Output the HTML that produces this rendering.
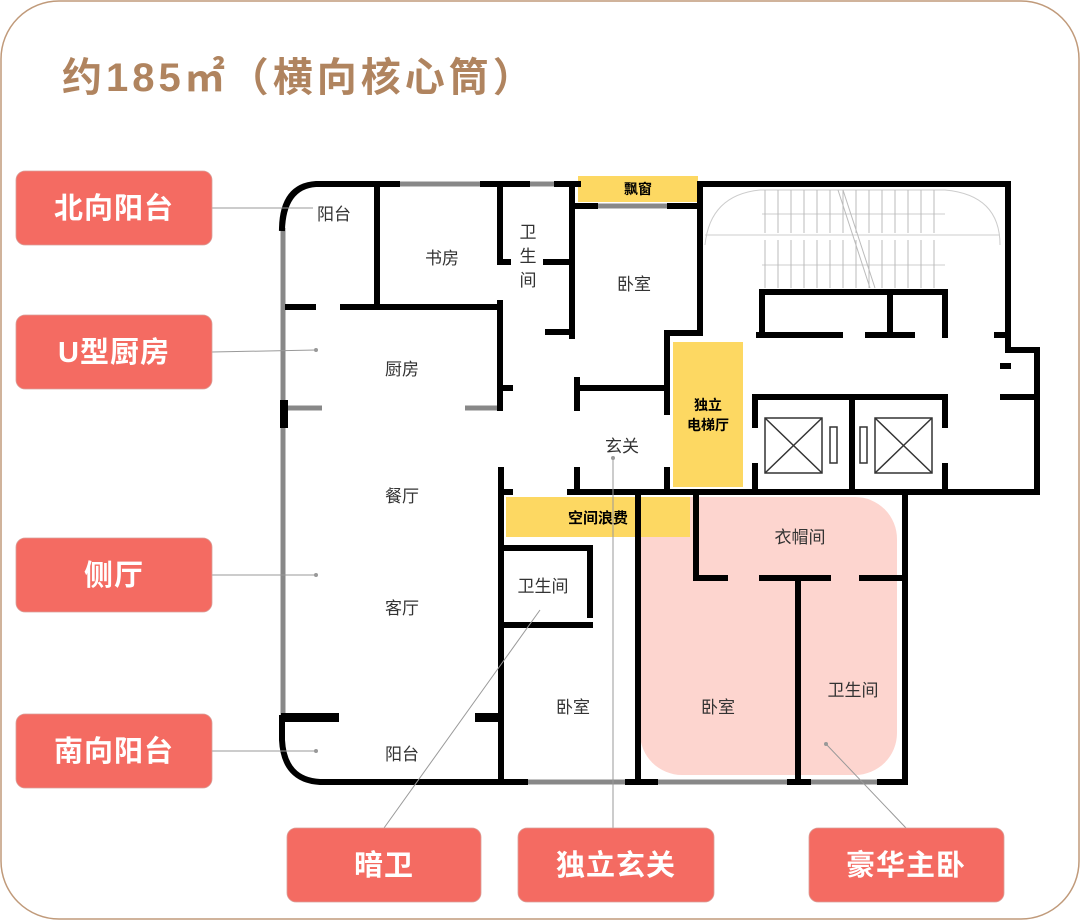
<!DOCTYPE html>
<html><head><meta charset="utf-8"><style>
html,body{margin:0;padding:0;background:#fff;}
svg{display:block}
text{font-family:"Liberation Sans","Noto Sans CJK SC",sans-serif;}
</style></head><body>
<svg width="1080" height="920" viewBox="0 0 1080 920" xmlns="http://www.w3.org/2000/svg">
<rect x="1" y="1" width="1078" height="918" rx="58" fill="#fff" stroke="#c09a7a" stroke-width="1.5"/>
<text x="62" y="91" font-size="40" font-weight="bold" fill="#b0845f" letter-spacing="4">约185㎡（横向核心筒）</text>

<!-- colored areas -->
<rect x="640" y="497" width="257" height="278" rx="42" fill="#fdd5cf"/>
<rect x="578" y="176" width="120" height="26" fill="#fdd862"/>
<rect x="673" y="342" width="70" height="145" fill="#fdd862"/>
<rect x="506" y="497" width="184" height="40" fill="#fdd862"/>

<!-- stairs faint -->
<g stroke="#ccc" stroke-width="1" fill="none">
<path d="M705 245 Q710 195 760 190 L945 190 Q1000 195 1000 245"/>
<line x1="705" y1="235" x2="1000" y2="235"/>
<line x1="762" y1="214" x2="945" y2="214"/>
<line x1="762" y1="265" x2="945" y2="265"/>
<g stroke="#bbb">
<line x1="765" y1="190" x2="765" y2="233"/><line x1="778" y1="190" x2="778" y2="233"/><line x1="791" y1="190" x2="791" y2="233"/><line x1="804" y1="190" x2="804" y2="233"/><line x1="817" y1="190" x2="817" y2="233"/><line x1="830" y1="190" x2="830" y2="233"/><line x1="843" y1="190" x2="843" y2="233"/><line x1="856" y1="190" x2="856" y2="233"/><line x1="869" y1="190" x2="869" y2="233"/><line x1="882" y1="190" x2="882" y2="233"/><line x1="895" y1="190" x2="895" y2="233"/><line x1="908" y1="190" x2="908" y2="233"/><line x1="921" y1="190" x2="921" y2="233"/><line x1="934" y1="190" x2="934" y2="233"/>
<line x1="765" y1="240" x2="765" y2="288"/><line x1="778" y1="240" x2="778" y2="288"/><line x1="791" y1="240" x2="791" y2="288"/><line x1="804" y1="240" x2="804" y2="288"/><line x1="817" y1="240" x2="817" y2="288"/><line x1="830" y1="240" x2="830" y2="288"/><line x1="843" y1="240" x2="843" y2="288"/><line x1="856" y1="240" x2="856" y2="288"/><line x1="869" y1="240" x2="869" y2="288"/><line x1="882" y1="240" x2="882" y2="288"/><line x1="895" y1="240" x2="895" y2="288"/><line x1="908" y1="240" x2="908" y2="288"/><line x1="921" y1="240" x2="921" y2="288"/><line x1="934" y1="240" x2="934" y2="288"/>
<line x1="838" y1="190" x2="870" y2="288"/><line x1="843" y1="190" x2="875" y2="288"/>
</g></g>

<!-- glass -->
<g stroke="#888" stroke-width="5" fill="none">
<line x1="283" y1="228" x2="283" y2="718"/>
<line x1="397" y1="184" x2="483" y2="184"/>
<line x1="527" y1="184" x2="557" y2="184"/>
<line x1="595" y1="206" x2="670" y2="206"/>
<line x1="525" y1="782" x2="628" y2="782"/>
<line x1="655" y1="782" x2="790" y2="782"/>
<line x1="808" y1="782" x2="880" y2="782"/>
<line x1="287" y1="408" x2="322" y2="408"/>
<line x1="465" y1="408" x2="497" y2="408"/>
</g>

<!-- walls -->
<g stroke="#000" stroke-width="6" fill="none" stroke-linecap="square">
<path d="M282 228 Q283 186 316 184 L397 184"/>
<line x1="483" y1="184" x2="527" y2="184"/>
<line x1="557" y1="184" x2="578" y2="184"/>
<line x1="700" y1="184" x2="1008" y2="184"/>
<line x1="576" y1="206" x2="595" y2="206"/>
<line x1="670" y1="206" x2="698" y2="206"/>
<line x1="377" y1="184" x2="377" y2="305"/>
<line x1="343" y1="307" x2="497" y2="307"/>
<line x1="288" y1="307" x2="313" y2="307"/>
<line x1="500" y1="184" x2="500" y2="262"/>
<line x1="500" y1="262" x2="508" y2="262"/>
<line x1="500" y1="303" x2="500" y2="408"/>
<line x1="500" y1="388" x2="510" y2="388"/>
<line x1="572" y1="184" x2="572" y2="336"/>
<line x1="546" y1="262" x2="570" y2="262"/>
<line x1="548" y1="332" x2="570" y2="332"/>
<line x1="700" y1="184" x2="700" y2="333"/>
<line x1="667" y1="333" x2="700" y2="333"/>
<line x1="667" y1="333" x2="667" y2="412"/>
<line x1="578" y1="388" x2="667" y2="388"/>
<line x1="577" y1="380" x2="577" y2="408"/>
<line x1="667" y1="470" x2="667" y2="490"/>
<line x1="577" y1="470" x2="577" y2="490"/>
<line x1="501" y1="470" x2="501" y2="782"/>
<line x1="501" y1="492" x2="510" y2="492"/>
<line x1="570" y1="492" x2="1037" y2="492"/>
<line x1="1008" y1="184" x2="1008" y2="350"/>
<line x1="1008" y1="350" x2="1037" y2="350"/>
<line x1="1037" y1="350" x2="1037" y2="492"/>
<line x1="1003" y1="366" x2="1008" y2="366"/>
<line x1="1003" y1="397" x2="1035" y2="397"/>
<!-- stairs box -->
<line x1="762" y1="292" x2="945" y2="292"/>
<line x1="762" y1="292" x2="762" y2="335"/>
<line x1="890" y1="292" x2="890" y2="335"/>
<line x1="945" y1="292" x2="945" y2="335"/>
<line x1="759" y1="335" x2="840" y2="335"/>
<line x1="868" y1="335" x2="912" y2="335"/>
<line x1="997" y1="335" x2="1006" y2="335"/>
<!-- elevators -->
<line x1="755" y1="397" x2="945" y2="397"/>
<line x1="755" y1="397" x2="755" y2="425"/>
<line x1="755" y1="466" x2="755" y2="490"/>
<line x1="852" y1="397" x2="852" y2="490"/>
<line x1="945" y1="397" x2="945" y2="425"/>
<line x1="945" y1="466" x2="945" y2="490"/>
<!-- bottom section -->
<line x1="505" y1="548" x2="590" y2="548"/>
<line x1="590" y1="548" x2="590" y2="615"/>
<line x1="505" y1="625" x2="590" y2="625"/>
<line x1="638" y1="492" x2="638" y2="782"/>
<line x1="696" y1="497" x2="696" y2="578"/>
<line x1="696" y1="578" x2="725" y2="578"/>
<line x1="762" y1="578" x2="828" y2="578"/>
<line x1="862" y1="578" x2="905" y2="578"/>
<line x1="798" y1="578" x2="798" y2="782"/>
<line x1="905" y1="492" x2="905" y2="782"/>
<path d="M282 718 L282 740 Q284 780 320 782 L525 782"/>
<line x1="628" y1="782" x2="655" y2="782"/>
<line x1="790" y1="782" x2="808" y2="782"/>
<line x1="880" y1="782" x2="905" y2="782"/>
</g>
<g fill="#000">
<rect x="280" y="400" width="8" height="28"/>
<rect x="281" y="713" width="58" height="9"/>
<rect x="475" y="713" width="28" height="9"/>
</g>
<!-- elevator cars -->
<g stroke="#333" stroke-width="1.5" fill="none">
<rect x="765" y="418" width="57" height="55"/><line x1="765" y1="418" x2="822" y2="473"/><line x1="822" y1="418" x2="765" y2="473"/>
<rect x="875" y="418" width="57" height="55"/><line x1="875" y1="418" x2="932" y2="473"/><line x1="932" y1="418" x2="875" y2="473"/>
<rect x="830" y="427" width="7" height="36"/><rect x="860" y="427" width="7" height="36"/>
</g>

<!-- yellow labels -->
<g font-size="14" font-weight="bold" fill="#000" text-anchor="middle">
<text x="638" y="194">飘窗</text>
<text x="708" y="410">独立</text>
<text x="708" y="430">电梯厅</text>
<text x="598" y="523" font-size="15">空间浪费</text>
</g>

<!-- room labels -->
<g font-size="17" fill="#333" text-anchor="middle">
<text x="334" y="220">阳台</text>
<text x="442" y="264">书房</text>
<text x="528" y="238">卫</text><text x="528" y="262">生</text><text x="528" y="286">间</text>
<text x="634" y="290">卧室</text>
<text x="402" y="375">厨房</text>
<text x="622" y="452">玄关</text>
<text x="402" y="502">餐厅</text>
<text x="402" y="614">客厅</text>
<text x="402" y="760">阳台</text>
<text x="543" y="592">卫生间</text>
<text x="573" y="713">卧室</text>
<text x="800" y="543">衣帽间</text>
<text x="718" y="713">卧室</text>
<text x="853" y="696">卫生间</text>
</g>

<!-- leaders -->
<g stroke="#999" stroke-width="1" fill="none">
<line x1="212" y1="208" x2="313" y2="208"/>
<line x1="212" y1="352" x2="316" y2="350"/>
<line x1="212" y1="575" x2="316" y2="575"/>
<line x1="212" y1="751" x2="316" y2="751"/>
<line x1="384" y1="828" x2="540" y2="610"/>
<line x1="613" y1="828" x2="613" y2="458"/>
<line x1="906" y1="828" x2="826" y2="744"/>
</g>
<g fill="#999">
<circle cx="316" cy="350" r="2"/><circle cx="316" cy="575" r="2"/><circle cx="316" cy="751" r="2"/>
<circle cx="613" cy="458" r="2"/><circle cx="826" cy="744" r="2"/>
</g>

<!-- red labels -->
<g fill="#f46b62" stroke="#d9a09a" stroke-width="0.8">
<rect x="16" y="171" width="196" height="74" rx="9"/>
<rect x="16" y="315" width="196" height="74" rx="9"/>
<rect x="16" y="538" width="196" height="74" rx="9"/>
<rect x="16" y="714" width="196" height="74" rx="9"/>
<rect x="287" y="828" width="194" height="74" rx="9"/>
<rect x="518" y="828" width="196" height="74" rx="9"/>
<rect x="809" y="828" width="195" height="74" rx="9"/>
</g>
<g fill="#fff" font-size="29" font-weight="bold" text-anchor="middle" letter-spacing="1">
<text x="114" y="218">北向阳台</text>
<text x="114" y="362">U型厨房</text>
<text x="114" y="585">侧厅</text>
<text x="114" y="761">南向阳台</text>
<text x="384" y="875">暗卫</text>
<text x="616" y="875">独立玄关</text>
<text x="906" y="875">豪华主卧</text>
</g>
</svg>
</body></html>
